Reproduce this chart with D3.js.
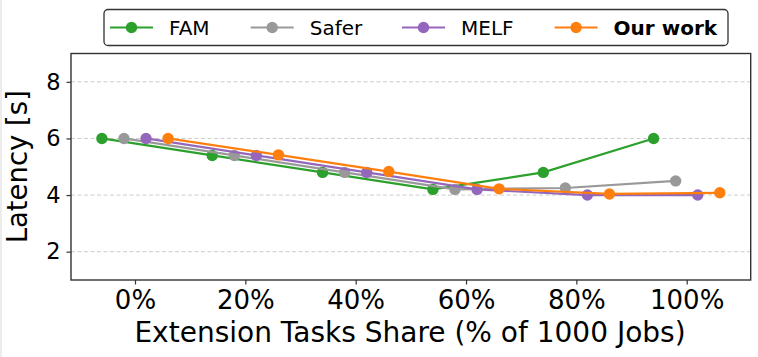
<!DOCTYPE html>
<html><head><meta charset="utf-8">
<script src="https://cdn.jsdelivr.net/npm/d3@7"></script>
<style>html,body{margin:0;padding:0;background:#fff;}svg{display:block;}</style>
</head><body>
<script>
const categories = [0, 20, 40, 60, 80, 100];
const seriesNames = ["FAM", "Safer", "MELF", "Our work"];
const seriesOffsets = [-6, -2, 2, 6];
const famValues   = [6.0, 5.4, 4.8, 4.2, 4.8, 6.0];
const saferValues = [6.0, 5.4, 4.8, 4.2, 4.25, 4.5];
const melfValues  = [6.0, 5.4, 4.8, 4.2, 4.0, 4.0];
const ourValues   = [6.0, 5.42, 4.83, 4.22, 4.04, 4.08];
const yTicks = [2, 4, 6, 8];
const xTickLabels = ["0%", "20%", "40%", "60%", "80%", "100%"];
const colors = ["#2ca02c", "#999999", "#9467bd", "#ff7f0e"];

const W = 758, H = 357;
const m = {left: 71, right: 7.3, top: 53.5, bottom: 77};
const svg = d3.select("body").append("svg").attr("width", W).attr("height", H);
svg.append("rect").attr("width", W).attr("height", H).attr("fill", "#fff");
svg.append("rect").attr("x", 0).attr("y", 0).attr("width", 2).attr("height", H).attr("fill", "#ececec");

const x = d3.scaleLinear().domain([-11.6, 111.6]).range([m.left, W - m.right]);
const y = d3.scaleLinear().domain([1, 9]).range([H - m.bottom, m.top]);
const font = "'DejaVu Sans', sans-serif";

// grid
svg.append("g").selectAll("line").data(yTicks).join("line")
  .attr("x1", m.left).attr("x2", W - m.right)
  .attr("y1", d => y(d)).attr("y2", d => y(d))
  .attr("stroke", "#cccccc").attr("stroke-width", 1).attr("stroke-dasharray", "4,2.5");

// axes
const xAxis = d3.axisBottom(x).tickValues(categories).tickFormat((d, i) => xTickLabels[i]).tickSize(4.5).tickPadding(6);
const gx = svg.append("g").attr("transform", `translate(0,${H - m.bottom})`).call(xAxis);
gx.select(".domain").remove();
gx.selectAll("line").attr("stroke", "#333").attr("stroke-width", 1.2);
gx.selectAll("text").attr("font-family", font).attr("font-size", 26).attr("fill", "#000");

const yAxis = d3.axisLeft(y).tickValues(yTicks).tickSize(4.5).tickPadding(6);
const gy = svg.append("g").attr("transform", `translate(${m.left},0)`).call(yAxis);
gy.select(".domain").remove();
gy.selectAll("line").attr("stroke", "#333").attr("stroke-width", 1.2);
gy.selectAll("text").attr("font-family", font).attr("font-size", 22.5).attr("fill", "#000");

// frame
svg.append("rect").attr("x", m.left).attr("y", m.top)
  .attr("width", W - m.right - m.left).attr("height", H - m.bottom - m.top)
  .attr("fill", "none").attr("stroke", "#333").attr("stroke-width", 1.4);

// series
const allValues = [famValues, saferValues, melfValues, ourValues];
const line = d3.line().x(d => x(d.x)).y(d => y(d.y));
allValues.forEach((vals, si) => {
  const pts = categories.map((c, i) => ({x: c + seriesOffsets[si], y: vals[i]}));
  const g = svg.append("g");
  g.append("path").datum(pts).attr("d", line).attr("fill", "none")
    .attr("stroke", colors[si]).attr("stroke-width", 2.2);
  g.selectAll("circle").data(pts).join("circle")
    .attr("cx", d => x(d.x)).attr("cy", d => y(d.y)).attr("r", 5.7).attr("fill", colors[si]);
});

// axis labels
svg.append("text").attr("x", 410).attr("y", 341.5)
  .attr("text-anchor", "middle").attr("font-family", font).attr("font-size", 28)
  .text("Extension Tasks Share (% of 1000 Jobs)");
svg.append("text").attr("transform", `translate(27,${(m.top + H - m.bottom) / 2}) rotate(-90)`)
  .attr("text-anchor", "middle").attr("font-family", font).attr("font-size", 27.5)
  .text("Latency [s]");

// legend
const lg = svg.append("g");
lg.append("rect").attr("x", 104).attr("y", 9.5).attr("width", 624).attr("height", 36).attr("rx", 4)
  .attr("fill", "#fff").attr("stroke", "#333").attr("stroke-width", 1.3);
const legX = [110, 250.7, 402, 554.6];
seriesNames.forEach((name, i) => {
  const lx = legX[i];
  lg.append("line").attr("x1", lx).attr("x2", lx + 43).attr("y1", 27.5).attr("y2", 27.5)
    .attr("stroke", colors[i]).attr("stroke-width", 2.2);
  lg.append("circle").attr("cx", lx + 21.5).attr("cy", 27.5).attr("r", 5.7).attr("fill", colors[i]);
  lg.append("text").attr("x", lx + 59).attr("y", 27.5).attr("dy", "0.36em")
    .attr("font-family", font).attr("font-size", 20)
    .attr("font-weight", i === 3 ? "bold" : "normal").text(name);
});
</script>
</body></html>
